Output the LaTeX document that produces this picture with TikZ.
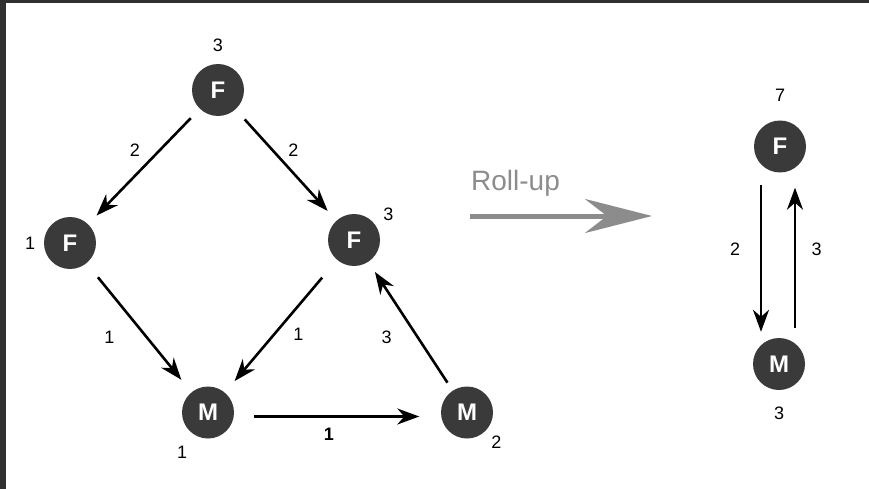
\documentclass[tikz,border=0pt]{standalone}
\usepackage{fontspec}
\setmainfont{Liberation Sans}
\usetikzlibrary{positioning,arrows.meta}
\definecolor{vertfill}{HTML}{3A3A3A}
\definecolor{framegray}{HTML}{303030}
\definecolor{rollgray}{HTML}{8C8C8C}

\begin{document}
\begin{tikzpicture}[>={Stealth[length=22pt,width=16pt,inset=7pt]},x=1pt,y=-1pt,
    vert/.style={circle,fill=vertfill,text=white,inner sep=0pt,minimum size=52pt,
      font=\bfseries\fontsize{24}{26}\selectfont},
    wt/.style={inner sep=0pt,font=\fontsize{18}{21}\selectfont},
    flow/.style={->,line width=2.6pt},
    roll/.style={-{Stealth[length=67pt,width=34pt,inset=22pt]},line width=5pt,draw=rollgray}]
  \useasboundingbox (0,0) rectangle (869,489);
  % frame
  \fill[framegray] (0,0) rectangle (869,3.5);
  \fill[framegray] (0,0) rectangle (6,489);

  % left graph
  \node[vert,label={[wt,label distance=11.5pt]above:3}] (f1) at (218,90) {F};
  \node[vert,label={[wt,label distance=8.5pt]left:1}] (f2) at (70,243) {F};
  \node[vert,label={[wt,label distance=8.5pt]33:3}] (f3) at (354,240) {F};
  \node[vert,label={[wt,label distance=13pt]-122:1}] (m1) at (208,412.5) {M};
  \node[vert,label={[wt,label distance=7.5pt]-44:2}] (m2) at (467,412.5) {M};
  \path[flow]
    (f1) edge[shorten <=13pt,shorten >=12pt]
      node[wt,xshift=-9pt,yshift=16.5pt] {2} (f2)
    (f1) edge[shorten <=13.5pt,shorten >=13pt]
      node[wt,xshift=7.5pt,yshift=15pt] {2} (f3)
    (f2) edge[shorten <=18pt,shorten >=16pt]
      node[wt,xshift=-29.5pt,yshift=-9.5pt] {1} (m1)
    (f3) edge[shorten <=23pt,shorten >=15pt]
      node[wt,xshift=17.5pt,yshift=-8pt] {1} (m1)
    (m2) edge[shorten <=9.5pt,shorten >=12pt]
      node[wt,xshift=-24pt,yshift=-11pt] {3} (f3)
    ([yshift=-4pt]m1.east) edge[shorten <=20pt,shorten >=21.5pt]
      node[wt,font=\bfseries\fontsize{18}{21}\selectfont,xshift=-8.5pt,yshift=-17.8pt] {1}
      ([yshift=-4pt]m2.west);

  % roll-up
  \coordinate (ru0) at (470,216);
  \coordinate (ru1) at (652,216);
  \draw[roll] (ru0) -- (ru1);
  \node[anchor=base west,inner sep=0pt,text=rollgray,font=\fontsize{28}{31}\selectfont]
    (rolltxt) at (471,190) {Roll-up};

  % rolled-up graph
  \node[vert,label={[wt,label distance=19pt]above:7}] (r1) at (780,146.5) {F};
  \node[vert,label={[wt,label distance=17pt]below:3}] (r2) at (779,364) {M};
  \path[flow]
    ([xshift=-19pt]r1.south) edge[shorten <=12pt,shorten >=6pt]
      node[wt,xshift=-26pt,yshift=5.6pt] {2} ([xshift=-18pt]r2.north)
    ([xshift=16pt]r2.north) edge[shorten <=10pt,shorten >=15pt]
      node[wt,xshift=21.5pt,yshift=6pt] {3} ([xshift=15pt]r1.south);
\end{tikzpicture}
\end{document}
